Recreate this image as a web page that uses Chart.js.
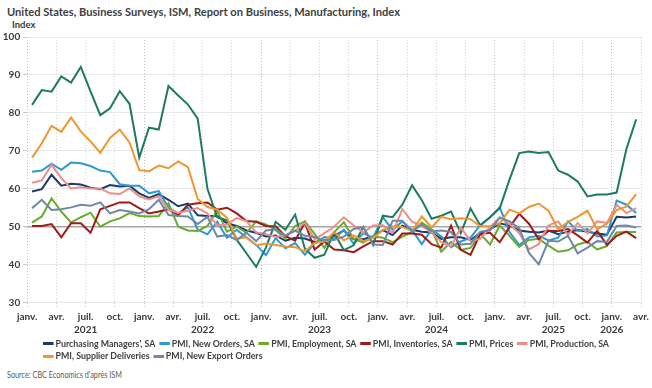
<!DOCTYPE html>
<html>
<head>
<meta charset="utf-8">
<script src="https://cdn.jsdelivr.net/npm/chart.js@4"></script>
<style>
  html, body { margin: 0; padding: 0; background: #fff; }
  body { width: 652px; height: 388px; position: relative; overflow: hidden;
         font-family: Lato, "Open Sans", sans-serif; }
  #chart { position: absolute; left: 0; top: 0; }
  .title { position: absolute; left: 7px; top: 5px; font-size: 10.8px; line-height: 13px; font-weight: bold; color: #404040; white-space: nowrap; transform-origin: left top; }
  .unit { position: absolute; left: 12px; top: 18.5px; font-size: 9.5px; line-height: 11px; font-weight: bold; color: #404040; white-space: nowrap; }
  #legend { position: absolute; left: 43px; top: 338px; font-size: 9.2px; line-height: 12.4px; font-weight: bold; color: #404040; white-space: nowrap; transform-origin: left top; }
  #legend .row { display: block; }
  #legend .row span.measure { display: inline-block; }
  #legend .item { display: inline-block; }
  #legend .item + .item { margin-left: 4px; }
  #legend .sym { display: inline-block; width: 11px; height: 3px; margin-right: 2px; vertical-align: middle; position: relative; top: -1px; }
  .source { position: absolute; left: 7px; top: 370px; font-size: 8.5px; line-height: 11px; color: #595959; white-space: nowrap; transform-origin: left top; }
</style>
</head>
<body>
<div class="title" id="title">United States, Business Surveys, ISM, Report on Business, Manufacturing, Index</div>
<div class="unit">Index</div>
<canvas id="chart" width="652" height="340"></canvas>
<div id="legend"></div>
<div class="source" id="source">Source: CBC Economics d'après ISM</div>
<script>
// Monthly values, Jan 2021 .. Mar 2026
let quarterNames = ["janv.", "avr.", "juil.", "oct."];
let yearNames = ["2021", "2022", "2023", "2024", "2025", "2026"];

let pmi = [59.3,59.9,63.7,60.8,61.3,61.1,60.3,59.9,61.0,60.6,60.8,58.8,
  57.6,58.6,57.1,55.4,56.1,53.0,52.8,52.8,50.9,50.2,49.0,48.4,
  47.4,47.7,46.3,47.1,46.9,46.0,46.4,47.6,49.0,46.7,46.7,47.4,
  49.1,47.8,50.3,49.2,48.7,48.5,46.8,47.2,47.2,46.5,48.4,49.3,
  50.9,50.3,49.0,48.7,48.5,49.0,48.0,48.7,49.1,48.7,48.2,47.9,
  52.6,52.4,52.7];
let newOrders = [64.5,64.8,66.6,65.0,66.9,66.7,66.0,64.8,64.4,61.2,60.8,60.8,
  58.8,59.4,55.0,53.5,55.1,49.2,48.0,51.3,47.1,49.2,47.2,45.2,
  42.5,47.0,44.3,45.7,42.6,45.6,47.3,46.8,49.2,45.5,48.3,47.1,
  52.5,49.2,51.4,49.1,45.4,49.3,47.4,44.6,46.1,47.1,50.4,52.5,
  55.1,48.6,45.2,47.2,47.6,46.4,47.1,51.4,48.9,49.4,47.4,47.7,
  56.9,55.8,53.6];
let employment = [51.1,52.7,57.5,54.0,51.1,52.5,53.7,50.0,51.4,52.2,53.6,52.8,
  52.7,52.8,56.2,50.0,49.0,48.9,50.2,54.2,48.7,50.0,48.4,51.4,
  50.6,49.1,46.9,50.2,51.4,48.1,44.4,48.5,51.2,46.8,45.8,47.5,
  47.1,45.9,47.4,48.6,51.1,49.3,43.4,46.0,43.9,44.4,48.1,45.3,
  50.3,47.6,44.7,46.5,46.8,45.0,43.4,43.8,45.3,46.0,44.0,44.9,
  48.5,48.6,48.6];
let inventories = [50.2,50.2,50.7,47.2,50.9,50.9,48.4,54.6,55.5,56.4,56.4,54.9,
  53.5,54.0,54.6,53.0,55.8,56.2,56.4,54.5,55.0,53.5,51.5,51.3,
  50.2,50.1,47.5,46.3,51.1,44.0,46.1,44.0,43.8,43.3,44.8,46.2,
  46.2,45.3,48.2,48.2,47.9,45.4,44.5,50.3,43.9,42.6,48.1,48.4,
  45.9,49.9,53.4,50.8,46.7,48.9,48.9,49.4,47.7,45.8,48.9,45.2,
  47.6,48.7,47.0];
let prices = [82.1,86.0,85.6,89.6,88.0,92.1,85.7,79.4,81.2,85.7,82.4,68.2,
  76.1,75.6,87.1,84.6,82.2,78.5,60.0,52.5,51.7,46.6,43.0,39.4,
  44.5,51.3,49.2,53.2,44.2,41.8,42.6,48.4,43.8,45.1,49.9,45.2,
  52.9,52.5,55.8,60.9,57.0,52.1,52.9,54.0,48.3,54.8,50.3,52.5,
  54.9,62.4,69.4,69.8,69.4,69.7,64.8,63.7,61.9,58.0,58.5,58.5,
  59.0,70.5,78.3];
let production = [61.6,62.2,66.3,62.8,60.1,60.4,60.1,60.1,58.8,58.6,60.1,58.0,
  57.2,58.0,54.5,53.6,54.2,54.9,53.5,50.4,50.6,52.3,51.5,48.5,
  48.0,47.3,47.8,48.9,51.1,46.7,48.3,50.0,52.5,50.4,48.5,50.3,
  50.4,48.4,54.6,51.3,50.2,48.5,45.9,44.8,49.8,46.2,46.8,49.9,
  52.5,50.7,48.3,44.0,45.4,50.3,51.4,47.8,51.0,48.2,51.4,51.0,
  55.8,53.6,54.9];
let supplierDeliveries = [68.2,72.0,76.6,75.0,78.8,75.1,72.5,69.5,73.4,75.6,72.2,64.9,
  64.6,66.1,65.4,67.2,65.7,57.3,55.2,54.5,52.4,46.8,47.2,45.1,
  45.6,45.2,44.8,44.6,43.5,45.7,46.1,48.6,46.4,47.7,46.2,47.0,
  49.1,50.1,49.9,48.9,52.7,49.8,52.6,52.0,52.2,52.0,50.1,50.1,
  50.9,54.5,53.5,55.2,56.1,54.2,49.3,51.3,52.6,54.2,49.3,50.8,
  54.4,55.3,58.6];
let newExportOrders = [54.9,57.1,54.4,54.6,55.1,55.8,55.5,56.4,53.5,54.4,54.0,53.5,
  54.6,57.1,53.1,52.8,52.7,50.7,52.6,47.4,47.8,46.5,48.4,46.2,
  49.0,49.3,47.6,49.0,47.6,47.3,46.4,46.5,47.4,49.4,49.9,45.3,
  45.2,51.6,51.6,48.7,50.6,48.8,49.0,48.6,45.3,45.5,48.7,49.0,
  52.4,51.4,49.6,43.1,40.1,46.3,46.1,47.6,43.0,44.5,46.2,46.0,
  50.2,50.3,49.8];

let seriesNames = ["Purchasing Managers', SA", "PMI, New Orders, SA", "PMI, Employment, SA",
  "PMI, Inventories, SA", "PMI, Prices", "PMI, Production, SA",
  "PMI, Supplier Deliveries", "PMI, New Export Orders"];
let seriesValues = [pmi, newOrders, employment, inventories, prices, production, supplierDeliveries, newExportOrders];
let seriesColors = ["#1c3a6e", "#2e98d3", "#6aab2e", "#9e1b1b", "#1f7a62", "#ec8f87", "#f0962f", "#6f87a8"];

let fontFam = "Lato, 'Open Sans', sans-serif";
let totalMonths = 63;

let datasets = seriesValues.map((vals, i) => ({
    label: seriesNames[i],
    data: vals.map((v, m) => ({ x: m + 0.5, y: v })),
    borderColor: seriesColors[i],
    backgroundColor: seriesColors[i],
    borderWidth: 2,
    pointRadius: 0,
    tension: 0,
    order: seriesNames.length - i
}));

new Chart(document.getElementById("chart"), {
    type: "line",
    data: { datasets: datasets },
    options: {
        responsive: false,
        animation: false,
        devicePixelRatio: 1,
        layout: { padding: { top: 37, right: 10, left: 0, bottom: 0 } },
        plugins: { legend: { display: false }, tooltip: { enabled: false } },
        scales: {
            x: {
                type: "linear",
                min: 0,
                max: totalMonths,
                afterFit: function (scale) { scale.height = 37.4; },
                ticks: {
                    stepSize: 3,
                    autoSkip: false,
                    maxRotation: 0,
                    padding: 3,
                    color: "#3a3a3a",
                    font: { family: fontFam, size: 10, weight: "bold", lineHeight: 1.3 },
                    callback: function (value) {
                        let q = quarterNames[(value % 12) / 3];
                        let yr = yearNames[Math.floor(value / 12)];
                        if (value % 12 === 6 || value === 60) return [q, yr];
                        return q;
                    }
                },
                grid: {
                    color: function (c) { return (c.tick && c.tick.value % 12 === 0) ? "#bdbdbd" : "#d6d6d6"; },
                    lineWidth: 1,
                    tickLength: 5,
                    tickColor: "#c8c8c8",
                    tickBorderDash: [1, 2]
                },
                border: { display: false, dash: [1, 2] }
            },
            y: {
                min: 30,
                max: 100,
                afterFit: function (scale) { scale.width = 27.2; },
                ticks: {
                    stepSize: 10,
                    padding: 3,
                    color: "#3a3a3a",
                    font: { family: fontFam, size: 10, weight: "bold" }
                },
                grid: {
                    color: function (c) { return (c.tick && c.tick.value === 50) ? "#a6a6a6" : "#e8e8e8"; },
                    lineWidth: function (c) { return (c.tick && c.tick.value === 50) ? 1.5 : 1; },
                    tickLength: 4,
                    tickColor: "#c8c8c8"
                },
                border: { display: false }
            }
        }
    }
});

// legend, two rows like the original
let legendBox = document.getElementById("legend");
let rows = [document.createElement("div"), document.createElement("div")];
rows.forEach(r => { r.className = "row"; let m = document.createElement("span"); m.className = "measure"; r.appendChild(m); legendBox.appendChild(r); });
seriesNames.forEach((name, i) => {
    let item = document.createElement("span");
    item.className = "item";
    let sym = document.createElement("span");
    sym.className = "sym";
    sym.style.background = seriesColors[i];
    item.appendChild(sym);
    item.appendChild(document.createTextNode(name));
    rows[i < 6 ? 0 : 1].firstChild.appendChild(item);
});

// squeeze texts to the widths of the original
function fitWidth(el, measureEl, target) {
    let w = measureEl.getBoundingClientRect().width;
    if (w > 0) el.style.transform = "scaleX(" + (target / w) + ")";
}
fitWidth(document.getElementById("title"), document.getElementById("title"), 393);
fitWidth(legendBox, rows[0].firstChild, 566);
fitWidth(document.getElementById("source"), document.getElementById("source"), 115);
</script>
</body>
</html>
